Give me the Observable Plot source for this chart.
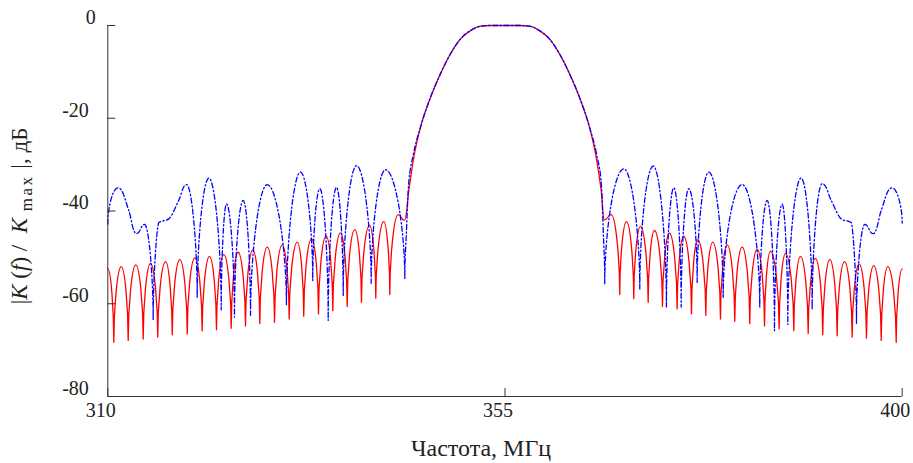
<!DOCTYPE html>
<html>
<head>
<meta charset="utf-8">
<script src="https://cdn.jsdelivr.net/npm/d3@7"></script>
<script src="https://cdn.jsdelivr.net/npm/@observablehq/plot@0.6"></script>
<style>
  html, body { margin: 0; padding: 0; background: #fff; }
  #chart svg { display: block; }
</style>
</head>
<body>
<div id="chart"></div>
<script>
// ---- tick labels ----
const xTicks = [310, 355, 400];
const yTicks = [0, -20, -40, -60, -80];

// ---- red (solid) curve: frequency, MHz / level, dB ----
const redFreq = [310.00, 310.68, 311.52, 312.31, 313.17, 314.01, 314.84, 315.66, 316.54, 317.30, 318.16, 319.00, 319.86, 320.69, 321.52, 322.31, 323.14, 323.98, 324.77, 325.60, 326.43, 327.22, 328.06, 328.89, 329.76, 330.55, 331.46, 332.20, 333.08, 333.87, 334.74, 335.49, 336.36, 337.12, 337.98, 338.74, 339.65, 340.36, 341.27, 341.95, 342.90, 343.61,
  344.10, 344.67, 345.43, 346.56, 347.69, 348.83, 349.96, 351.09, 352.23, 353.36, 355.00, 356.64, 357.77, 358.91, 360.04, 361.17, 362.31, 363.44, 364.57, 365.33, 365.90,
  366.27, 367.03, 368.00, 368.76, 369.59, 370.35, 371.22, 371.93, 372.84, 373.63, 374.50, 375.25, 376.13, 376.84, 377.75, 378.54, 379.41, 380.17, 381.03, 381.87, 382.73, 383.57, 384.40, 385.08, 386.06, 386.78, 387.72, 388.48, 389.35, 390.17, 391.00, 391.80, 392.63, 393.46, 394.33, 395.12, 395.95, 396.78, 397.62, 398.37, 399.32, 400.00];
const redLevel = [-52.5, -68.3, -52.0, -67.9, -51.6, -67.6, -51.3, -67.2, -50.9, -66.7, -50.5, -66.5, -50.1, -65.9, -49.8, -65.6, -49.4, -65.3, -48.9, -64.8, -48.4, -64.3, -47.8, -64.0, -47.3, -63.3, -46.7, -62.7, -46.0, -62.2, -45.4, -61.5, -44.7, -60.6, -44.0, -59.7, -43.1, -58.8, -42.3, -58.0, -40.8, -42.0,
  -35.6, -28.4, -21.9, -15.5, -10.4, -6.1, -2.9, -1.1, -0.15, 0, 0, 0, -0.15, -1.1, -2.9, -6.1, -10.4, -15.5, -21.9, -28.4, -35.6,
  -41.9, -40.8, -58.0, -42.3, -58.9, -43.3, -59.7, -44.2, -60.6, -44.8, -61.1, -45.5, -62.2, -46.2, -62.5, -46.7, -63.3, -47.3, -63.8, -47.8, -64.3, -48.3, -64.8, -48.7, -65.4, -49.2, -65.8, -49.8, -66.4, -50.2, -66.7, -50.5, -66.9, -50.9, -67.2, -51.4, -67.4, -51.8, -67.9, -52.0, -68.3, -52.5];

// ---- blue (dash-dot) curve ----
const blueFreq = [310.00, 311.13, 312.38, 313.25, 314.16, 315.14, 315.78, 316.91, 318.04, 318.92, 320.13, 321.45, 322.85, 323.45, 324.35, 325.34, 326.17, 328.06, 330.24, 331.83, 333.22, 334.02, 334.97, 335.91, 336.67, 338.18, 339.84, 341.46, 343.65,
  343.84, 344.07, 344.62, 345.43, 346.56, 347.69, 348.83, 349.96, 351.09, 352.23, 353.36, 355.00, 356.64, 357.77, 358.91, 360.04, 361.17, 362.31, 363.44, 364.57, 365.38, 365.93, 366.13,
  366.30, 368.46, 370.27, 371.79, 373.29, 374.12, 374.96, 375.82, 376.77, 378.09, 379.72, 381.87, 383.86, 384.70, 385.53, 386.40, 387.04, 388.55, 389.80, 390.93, 391.95, 393.09, 394.22, 394.82, 395.76, 396.71, 397.62, 398.86, 400.00];
const blueLevel = [-42.8, -35.0, -39.9, -44.9, -42.9, -63.5, -42.5, -41.7, -37.7, -34.3, -58.6, -32.9, -61.3, -38.5, -62.9, -37.7, -62.5, -34.3, -60.2, -31.6, -55.0, -35.2, -63.6, -34.9, -58.2, -30.2, -55.6, -31.1, -54.6,
  -44.2, -34.5, -27.8, -21.9, -15.5, -10.4, -6.1, -2.9, -1.1, -0.15, 0, 0, 0, -0.15, -1.1, -2.9, -6.1, -10.4, -15.5, -21.9, -27.8, -34.5, -44.2,
  -55.7, -30.9, -56.8, -30.3, -60.7, -35.0, -60.7, -35.2, -55.4, -31.6, -58.6, -34.3, -60.7, -37.7, -65.8, -38.5, -64.5, -32.9, -61.3, -34.1, -37.7, -41.7, -42.5, -64.2, -42.9, -44.9, -39.9, -35.0, -42.6];

const red = redFreq.map((f, i) => ({f, db: redLevel[i]}));
const blue = blueFreq.map((f, i) => ({f, db: blueLevel[i]}));

// Curve drawing style: sharp cusps at deep nulls, rounded tops, smooth elsewhere
function lobeCurve(context) {
  let pts = [];
  return {
    areaStart() {}, areaEnd() {},
    lineStart() { pts = []; },
    point(x, y) { pts.push([+x, +y]); },
    lineEnd() {
      const n = pts.length;
      if (!n) return;
      context.moveTo(pts[0][0], pts[0][1]);
      if (n === 1) return;
      const kind = pts.map((p, i) => {
        const ys = [pts[i - 1], pts[i + 1]].filter(Boolean).map(q => q[1]);
        if (ys.every(v => p[1] <= v)) return "max";
        if (ys.every(v => p[1] >= v)) {
          const d = Math.min(...ys.map(v => p[1] - v));
          return d > 25 ? "cusp" : "min";
        }
        return "mono";
      });
      const slope = i => {
        const [x0, y0] = pts[i - 1], [x1, y1] = pts[i], [x2, y2] = pts[i + 1];
        const h0 = x1 - x0, h1 = x2 - x1;
        const s0 = (y1 - y0) / h0, s1 = (y2 - y1) / h1;
        const p = (s0 * h1 + s1 * h0) / (h0 + h1);
        return (Math.sign(s0) + Math.sign(s1)) * Math.min(Math.abs(s0), Math.abs(s1), 0.5 * Math.abs(p));
      };
      const ctrl = (i, j) => {
        const [xi, yi] = pts[i], [xj, yj] = pts[j];
        const k = kind[i];
        if (k === "cusp") return [xi, yi + 0.45 * (yj - yi)];
        if (k === "max" || k === "min") return [xi + 0.5 * (xj - xi), yi];
        const m = slope(i), h = (xj - xi) / 3;
        return [xi + h, yi + m * h];
      };
      for (let i = 1; i < n; i++) {
        const c0 = ctrl(i - 1, i), c1 = ctrl(i, i - 1);
        context.bezierCurveTo(c0[0], c0[1], c1[0], c1[1], pts[i][0], pts[i][1]);
      }
    }
  };
}

const font = "Liberation Serif, Times New Roman, serif";
const axisColor = "#333";

const chart = Plot.plot({
  width: 913,
  height: 463,
  marginLeft: 107.3,
  marginRight: 11.3,
  marginTop: 25,
  marginBottom: 67,
  x: {domain: [310, 400], label: null},
  y: {domain: [-80, 0], label: null},
  style: {fontFamily: font, background: "#fff", color: "#222"},
  marks: [
    Plot.line(red, {x: "f", y: "db", stroke: "#ff0000", strokeWidth: 1.3, curve: lobeCurve}),
    Plot.line(blue, {x: "f", y: "db", stroke: "#0000ff", strokeWidth: 1.3, strokeDasharray: "5,2.5,1.3,2.5", curve: lobeCurve}),
    Plot.ruleX([310], {stroke: axisColor, strokeWidth: 1}),
    Plot.ruleY([-80], {stroke: axisColor, strokeWidth: 1}),
    Plot.axisY(yTicks, {tickSize: 8, dx: 8, tickFormat: () => "", stroke: axisColor, label: null}),
    Plot.axisX(xTicks, {tickSize: 8, dy: -8, tickFormat: () => "", stroke: axisColor, label: null}),
    Plot.text(yTicks.filter(d => d !== 0), {x: 310, y: d => d, text: d => String(d), textAnchor: "end", dx: -19, dy: -8, fontSize: 20, fontFamily: font, fill: "#222"}),
    Plot.text(yTicks.filter(d => d === 0), {x: 310, y: d => d, text: d => String(d), textAnchor: "end", dx: -12, dy: -8, fontSize: 20, fontFamily: font, fill: "#222"}),
    Plot.text(xTicks, {x: d => d, y: -80, text: d => String(d), dx: -7, dy: 14, fontSize: 20, fontFamily: font, fill: "#222"})
  ]
});

const svg = d3.select(chart);
// x axis title
svg.append("text")
  .attr("x", 481).attr("y", 456)
  .attr("text-anchor", "middle")
  .attr("font-family", font).attr("font-size", 24).attr("fill", "#222")
  .text("Частота, МГц");

// y axis title
const yl = svg.append("text")
  .attr("transform", "translate(27,216) rotate(-90)")
  .attr("text-anchor", "middle")
  .attr("font-family", font).attr("font-size", 23).attr("fill", "#222")
  .style("white-space", "pre");
yl.append("tspan").text("|");
yl.append("tspan").attr("font-style", "italic").text("K");
yl.append("tspan").text(" (");
yl.append("tspan").attr("font-style", "italic").text("f");
yl.append("tspan").text(") /  ");
yl.append("tspan").attr("font-style", "italic").text("K");
yl.append("tspan").attr("font-size", 17).attr("dy", 5).attr("letter-spacing", 2.5).text(" max");
yl.append("tspan").attr("dy", -5).text(" |, дБ");

document.getElementById("chart").appendChild(chart);
</script>
</body>
</html>
